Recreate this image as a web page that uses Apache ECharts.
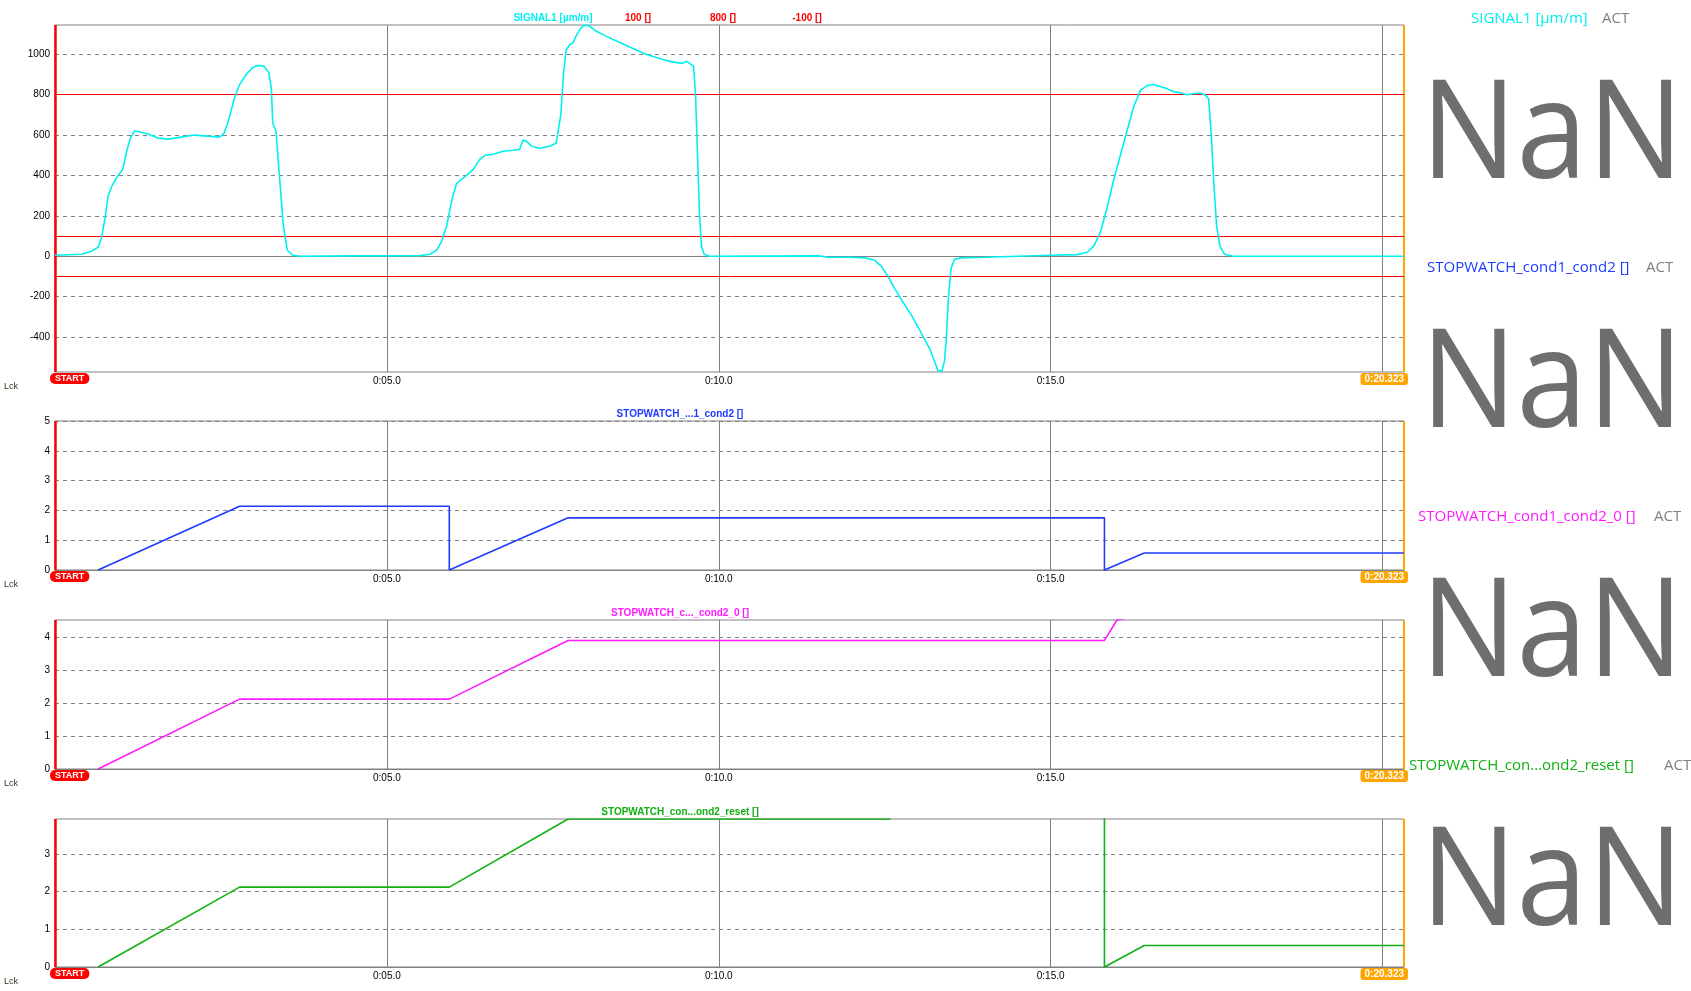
<!DOCTYPE html>
<html><head><meta charset="utf-8">
<script src="https://cdn.jsdelivr.net/npm/echarts@6/dist/echarts.min.js"></script>
<style>html,body{margin:0;padding:0;background:#fff;overflow:hidden}#c{width:1691px;height:991px}</style>
</head><body><div id="c"></div>
<script>
// ---------------- DATA ----------------
const END_TIME = 20.323;
const xTicks = [5, 10, 15, 20];
const xLabelValues = [5, 10, 15];
const xTickLabels = {5: '0:05.0', 10: '0:10.0', 15: '0:15.0'};

const signalTime = [0.00,0.40,0.55,0.65,0.70,0.76,0.80,0.86,0.95,1.02,1.08,1.14,1.20,1.28,1.40,1.55,1.70,1.90,2.10,2.30,2.48,2.55,2.62,2.70,2.78,2.88,2.98,3.05,3.15,3.22,3.26,3.28,3.33,3.38,3.44,3.50,3.58,3.70,4.50,5.50,5.65,5.75,5.82,5.90,5.98,6.05,6.12,6.20,6.30,6.40,6.48,6.60,6.75,6.90,7.00,7.05,7.10,7.18,7.30,7.45,7.55,7.62,7.66,7.70,7.76,7.80,7.85,7.92,7.98,8.05,8.15,8.30,8.50,8.70,8.90,9.05,9.20,9.35,9.45,9.52,9.58,9.62,9.65,9.68,9.71,9.74,9.78,9.85,11.50,11.65,12.00,12.20,12.35,12.45,12.55,12.65,12.78,12.90,13.00,13.10,13.18,13.25,13.30,13.36,13.40,13.43,13.46,13.50,13.55,13.65,14.00,14.50,15.00,15.40,15.55,15.65,15.75,15.85,15.95,16.05,16.15,16.25,16.35,16.45,16.55,16.65,16.75,16.85,16.95,17.05,17.15,17.25,17.32,17.38,17.42,17.46,17.50,17.55,17.62,17.75,20.323];
const signalValue = [5,10,25,45,90,200,300,350,400,430,520,590,620,615,605,585,580,590,600,595,590,610,680,780,850,900,935,945,940,910,830,660,620,400,150,30,5,0,2,3,10,30,70,150,280,360,380,400,430,480,500,505,520,525,530,575,570,545,535,545,560,700,900,1020,1050,1055,1090,1130,1145,1140,1115,1090,1060,1030,1000,985,970,960,955,965,950,940,800,500,200,50,10,0,2,-5,-5,-8,-20,-50,-100,-160,-230,-290,-350,-410,-460,-520,-565,-570,-520,-400,-200,-60,-15,-8,-5,0,5,8,20,50,120,240,380,500,620,740,820,845,850,840,830,815,810,800,805,808,800,780,600,350,150,50,10,0,0];
const thresholds = [100, 800, -100];
const thresholdLabels = ['100 []', '800 []', '-100 []'];

const swTime  = [0.65, 2.78, 5.94, 5.94, 7.73, 15.81, 15.81, 16.41, 20.323];
const swValue = [0,    2.14, 2.14, 0,    1.75, 1.75,  0,     0.57,  0.57];

const sw0Time  = [0.65, 2.78, 5.94, 7.73, 15.81, 16.00, 16.41, 20.323];
const sw0Value = [0,    2.12, 2.12, 3.90, 3.90,  4.52,  4.70,  4.70];

const swResetTime  = [0.65, 2.78, 5.94, 7.73, 12.58, 12.62, 15.81, 15.81, 16.41, 20.323];
const swResetValue = [0,    2.12, 2.12, 3.93, 3.93,  4.40,  4.40,  0,     0.57,  0.57];

const panelTitles = ['SIGNAL1 [µm/m]', 'STOPWATCH_...1_cond2 []', 'STOPWATCH_c..._cond2_0 []', 'STOPWATCH_con...ond2_reset []'];
const legendNames = ['SIGNAL1 [µm/m]', 'STOPWATCH_cond1_cond2 []', 'STOPWATCH_cond1_cond2_0 []', 'STOPWATCH_con...ond2_reset []'];
const legendState = 'ACT';
const legendValue = 'NaN';
const yMin = [-573, 0, 0, 0];
const yMax = [1145, 5, 4.52, 3.93];
const yTicks = [[-400,-200,0,200,400,600,800,1000],[0,1,2,3,4,5],[0,1,2,3,4],[0,1,2,3]];

// ---------------- STYLE / LAYOUT ----------------
const colors = ['#00F0F0', '#1E3CFF', '#FF1AFF', '#12B012'];
const LAYOUT = [{top:25,height:347},{top:421,height:149},{top:620,height:149},{top:819,height:148}];
const GRID_LEFT = 55, GRID_RIGHT = 287;
const GREY = '#808080';
const legendX = [1471, 1427, 1418, 1409];
const actX = [1602, 1646, 1654, 1664];
const ROW_STEP = 249;

const chart = echarts.init(document.getElementById('c'));
const pairs = (t, v) => t.map((x, i) => [x, v[i]]);
const seriesData = [pairs(signalTime, signalValue), pairs(swTime, swValue), pairs(sw0Time, sw0Value), pairs(swResetTime, swResetValue)];

const option = {
  animation: false,
  backgroundColor: '#fff',
  grid: LAYOUT.map(l => ({left: GRID_LEFT, right: GRID_RIGHT, top: l.top, height: l.height, show: true, borderColor: GREY, borderWidth: 1, backgroundColor: 'transparent'})),
  xAxis: LAYOUT.map((l, i) => ({
    type: 'value', gridIndex: i, min: 0, max: END_TIME,
    axisLine: {show: true, lineStyle: {color: GREY, width: 1}},
    axisTick: {show: false, customValues: xTicks},
    axisLabel: {customValues: xLabelValues, formatter: v => xTickLabels[v] || '', color: '#000', fontSize: 10, fontFamily: 'Liberation Sans', margin: 4},
    splitLine: {show: true, lineStyle: {color: GREY, width: 1, type: 'solid'}}
  })),
  yAxis: LAYOUT.map((l, i) => ({
    type: 'value', gridIndex: i, min: yMin[i], max: yMax[i],
    axisLine: {show: false},
    axisTick: {show: false, customValues: yTicks[i]},
    axisLabel: {customValues: yTicks[i], formatter: v => String(v), color: '#000', fontSize: 10, fontFamily: 'Liberation Sans', margin: 5},
    splitLine: {show: true, lineStyle: {color: GREY, width: 1, type: [4, 4]}}
  })),
  series: seriesData.map((d, i) => ({
    type: 'line', xAxisIndex: i, yAxisIndex: i, data: d, showSymbol: false, symbol: 'none',
    color: colors[i], lineStyle: {color: colors[i], width: 1.6}, clip: true, z: 3,
    markLine: {
      silent: true, symbol: 'none', label: {show: false}, z: 2,
      data: [
        {xAxis: 0, lineStyle: {color: '#FF0000', width: 2.5, type: 'solid'}},
        {xAxis: END_TIME, lineStyle: {color: '#FFA500', width: 2, type: 'solid'}}
      ].concat(i === 0 ? thresholds.map(v => ({yAxis: v, lineStyle: {color: '#FF0000', width: 1, type: 'solid'}})) : [])
    }
  }))
};
chart.setOption(option);

// ---------------- ANNOTATIONS ----------------
const g = [];
const titleFont = 'bold 10px "Liberation Sans"';
const p1TitleX = [553, 638, 723, 807];
g.push({type: 'text', x: p1TitleX[0], y: LAYOUT[0].top - 7, style: {text: panelTitles[0], fill: colors[0], font: titleFont, textAlign: 'center', textVerticalAlign: 'middle'}});
thresholdLabels.forEach((t, k) => g.push({type: 'text', x: p1TitleX[k + 1], y: LAYOUT[0].top - 7, style: {text: t, fill: '#FF0000', font: titleFont, textAlign: 'center', textVerticalAlign: 'middle'}}));
for (let i = 1; i < 4; i++) {
  g.push({type: 'text', x: 680, y: LAYOUT[i].top - 7, style: {text: panelTitles[i], fill: colors[i], font: titleFont, textAlign: 'center', textVerticalAlign: 'middle'}});
}
for (let i = 0; i < 4; i++) {
  const p0 = chart.convertToPixel({gridIndex: i}, [0, yMin[i]]);
  const p1 = chart.convertToPixel({gridIndex: i}, [END_TIME, yMin[i]]);
  g.push({type: 'text', x: p0[0] - 5, y: p0[1] + 1, z: 10, style: {text: 'START', fill: '#fff', font: 'bold 9px "Liberation Sans"', backgroundColor: '#FF0000', borderRadius: 5, padding: [1, 5, 1, 5], textAlign: 'left', textVerticalAlign: 'top'}});
  g.push({type: 'text', x: p1[0] + 4, y: p1[1] + 1, z: 10, style: {text: '0:20.323', fill: '#fff', font: 'bold 10px "Liberation Sans"', backgroundColor: '#FFA500', borderRadius: 3, padding: [1, 4, 1, 4], textAlign: 'right', textVerticalAlign: 'top'}});
  g.push({type: 'text', x: 4, y: p0[1] + 15, style: {text: 'Lck', fill: '#3a3020', font: '9px "Liberation Sans"', textAlign: 'left', textVerticalAlign: 'middle'}});
  g.push({type: 'text', x: legendX[i], y: 19 + ROW_STEP * i, style: {text: legendNames[i], fill: colors[i], font: '15px "Open Sans"', textAlign: 'left', textVerticalAlign: 'middle'}});
  g.push({type: 'text', x: actX[i], y: 19 + ROW_STEP * i, style: {text: legendState, fill: GREY, font: '15px "Open Sans"', textAlign: 'left', textVerticalAlign: 'middle'}});
  g.push({type: 'text', x: 1552, y: 139 + ROW_STEP * i, scaleX: 0.93, style: {text: legendValue, fill: '#6E6E6E', font: '137px "Open Sans"', textAlign: 'center', textVerticalAlign: 'middle'}});
}
chart.setOption({graphic: g});
</script>
</body></html>
